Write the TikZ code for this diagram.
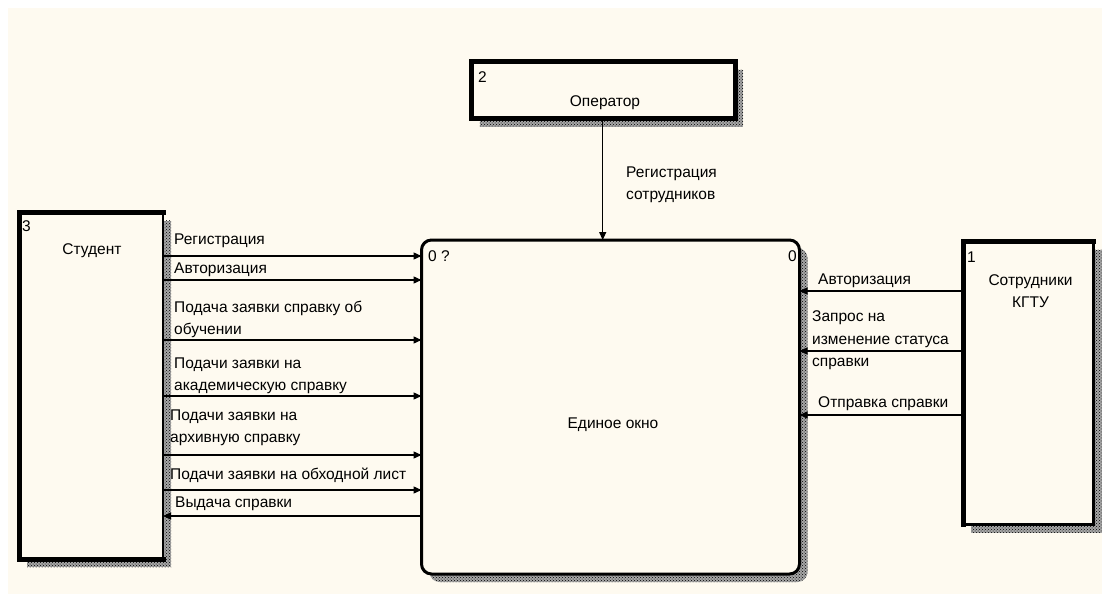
\documentclass[tikz,border=0pt]{standalone}
\usepackage{fontspec}
\setmainfont{Liberation Sans}
\usetikzlibrary{arrows.meta,patterns,backgrounds}
\definecolor{paper}{RGB}{254,250,240}
\tikzset{
  ent/.style={draw,line width=2.5pt,fill=paper,inner sep=0pt,outer sep=0pt},
  proc/.style={draw,line width=3pt,fill=paper,rounded corners=10pt,inner sep=0pt,outer sep=0pt},
  rim/.style={line width=5pt,line cap=rect},
  flow/.style={line width=1.3pt,-{Triangle[length=8pt,width=7pt]}},
  txt/.style={font=\fontsize{15.5}{22.5}\selectfont,inner sep=0pt,text depth=0pt},
  lbl/.style={txt,anchor=south west,align=left},
  num/.style={txt,anchor=south west},
  title/.style={txt,anchor=south,align=center},
  hatch/.style={preaction={fill=black!35},pattern=crosshatch dots,pattern color=black},
}
\begin{document}
\begin{tikzpicture}[x=1pt,y=-1pt]
  \useasboundingbox (0,0) rectangle (1102,594);
  \node[ent,minimum width=263.6pt,minimum height=56.7pt] (opr) at (603.5,90.3) {};
  \node[ent,minimum width=144pt,minimum height=346.5pt] (stud) at (91,385.8) {};
  \node[ent,minimum width=130.2pt,minimum height=283pt] (kgtu) at (1028.4,383.2) {};
  \node[proc,minimum width=378pt,minimum height=334pt] (main) at (610.5,407) {};
  \draw[rim] (opr.south west) -- (opr.north west) -- (opr.north east) -- (opr.south east) -- cycle;
  \draw[rim] (stud.south east) -- (stud.south west) -- (stud.north west) -- (stud.north east);
  \draw[rim] (kgtu.south west) -- (kgtu.north west) -- (kgtu.north east);

  \begin{scope}[on background layer]
    \fill[paper] (8,8) rectangle (1102,594);
    \fill[hatch] ([shift={(8,8)}]opr.south west) rectangle ([shift={(8,8)}]opr.north east);
    \fill[hatch] ([shift={(8,8)}]stud.south west) rectangle ([shift={(8,8)}]stud.north east);
    \fill[hatch] ([shift={(8,8)}]kgtu.south west) rectangle ([shift={(8,8)}]kgtu.north east);
    \fill[hatch,rounded corners=10pt] ([shift={(8,8)}]main.south west) rectangle ([shift={(8,8)}]main.north east);
  \end{scope}

  \node[num] (oprnum) at (478,83) {2};
  \node[title] (oprname) at (605,107) {Оператор};
  \node[num] (studnum) at (22,232) {3};
  \node[title] (studname) at (92,255) {Студент};
  \node[num] (kgtunum) at (967,263) {1};
  \node[title] (kgtuname) at (1030.5,308) {Сотрудники\\КГТУ};
  \node[num] (mainnum) at (428,262) {0 ?};
  \node[num,anchor=south east] (mainnode) at (797,262) {0};
  \node[title] (mainname) at (613,429) {Единое окно};

  \draw[flow] (opr.south -| 602.7,0) -- (main.north -| 602.7,0);
  \node[lbl] (lregop) at (626,200) {Регистрация\\сотрудников};

  \draw[flow] (stud.east |- 0,256) -- (main.west |- 0,256);
  \node[lbl] (lreg) at (174,245) {Регистрация};
  \draw[flow] (stud.east |- 0,280) -- (main.west |- 0,280);
  \node[lbl] (lauth) at (174,274) {Авторизация};
  \draw[flow] (stud.east |- 0,340) -- (main.west |- 0,340);
  \node[lbl] (lstudy) at (174,335) {Подача заявки справку об\\обучении};
  \draw[flow] (stud.east |- 0,396) -- (main.west |- 0,396);
  \node[lbl] (lacad) at (174,391) {Подачи заявки на\\академическую справку};
  \draw[flow] (stud.east |- 0,455) -- (main.west |- 0,455);
  \node[lbl] (larch) at (170,443) {Подачи заявки на\\архивную справку};
  \draw[flow] (stud.east |- 0,490) -- (main.west |- 0,490);
  \node[lbl] (lbypass) at (170,480) {Подачи заявки на обходной лист};
  \draw[flow] (main.west |- 0,516) -- (stud.east |- 0,516);
  \node[lbl] (lissue) at (175,508) {Выдача справки};

  \draw[flow] (kgtu.west |- 0,291) -- (main.east |- 0,291);
  \node[lbl] (rauth) at (818,285) {Авторизация};
  \draw[flow] (kgtu.west |- 0,351) -- (main.east |- 0,351);
  \node[lbl] (rquery) at (812,367) {Запрос на\\изменение статуса\\справки};
  \draw[flow] (kgtu.west |- 0,415) -- (main.east |- 0,415);
  \node[lbl] (rsend) at (818,408) {Отправка справки};
\end{tikzpicture}
\end{document}
